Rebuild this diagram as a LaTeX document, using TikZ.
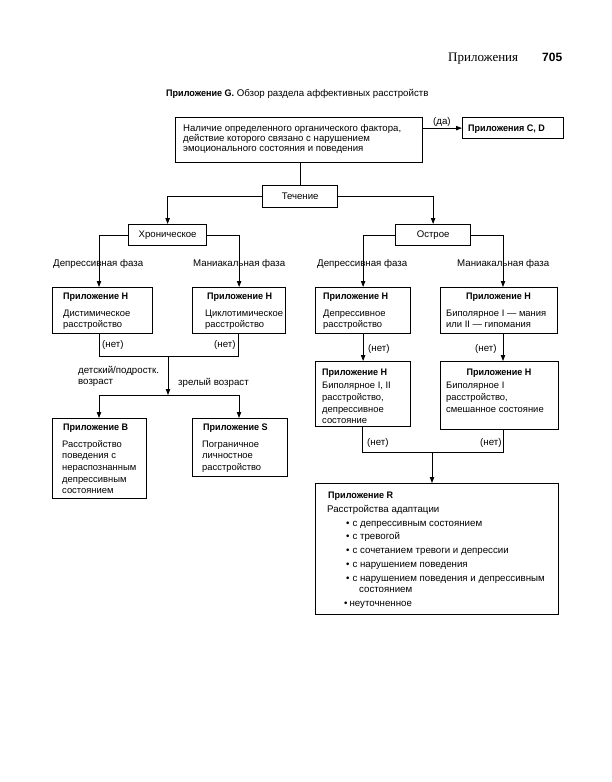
\documentclass[tikz,border=0pt]{standalone}
\usepackage{fontspec}
\setmainfont{Liberation Sans}
\newfontfamily\hdserif{Liberation Serif}
\newfontfamily\tfc[FakeStretch=0.95]{Liberation Sans}
\usetikzlibrary{arrows.meta,calc}
\newcommand\ttlx[1]{{\fontsize{9.5}{12}\tfc\bfseries #1}}
\begin{document}
\begin{tikzpicture}[x=1pt,y=-1pt,
  box/.style={draw, line width=1.25pt, inner sep=0pt, anchor=north west},
  ln/.style={line width=0.9pt},
  arr/.style={line width=0.9pt, -{Triangle[length=6pt,width=4.4pt]}},
  t/.style={anchor=base west, inner sep=0pt, align=left, font=\fontsize{9.4}{11.3}\selectfont},
  lb/.style={anchor=base west, inner sep=0pt, align=left, font=\fontsize{9.7}{11.3}\selectfont},
  tc/.style={inner sep=0pt, font=\fontsize{9.6}{11.3}\selectfont},
  bt/.style={anchor=base west, inner sep=0pt, font=\fontsize{9.5}{12}\tfc\bfseries}
]
\fill[white] (0,0) rectangle (611,782);
\useasboundingbox (0,0) rectangle (611,782);

% header
\node[anchor=base west, inner sep=0pt, font=\fontsize{13}{14}\hdserif] (hd) at (448,61) {Приложения};
\node[anchor=base west, inner sep=0pt, font=\fontsize{12}{14}\bfseries] (pg) at (542,61) {705};
\node[t, font=\fontsize{9.7}{12}\selectfont] (title) at (166,96.8) {\ttlx{Приложение G.} Обзор раздела аффективных расстройств};

% boxes
\node[box, minimum width=247pt, minimum height=45pt] (top) at (175,117) {};
\node[box, minimum width=101pt, minimum height=21pt] (CD) at (462,117) {};
\node[box, minimum width=75pt, minimum height=22pt] (tech) at (262,185) {};
\node[box, minimum width=78pt, minimum height=21pt] (chron) at (128,224) {};
\node[box, minimum width=75pt, minimum height=21pt] (acute) at (395,224) {};
\node[box, minimum width=100pt, minimum height=46pt] (H1) at (52,287) {};
\node[box, minimum width=93pt, minimum height=46pt] (H2) at (192,287) {};
\node[box, minimum width=95pt, minimum height=46pt] (H3) at (315,287) {};
\node[box, minimum width=117pt, minimum height=46pt] (H4) at (440,287) {};
\node[box, minimum width=95pt, minimum height=65pt] (H5) at (315,361) {};
\node[box, minimum width=118pt, minimum height=68pt] (H6) at (440,361) {};
\node[box, minimum width=94pt, minimum height=80pt] (B) at (52,418) {};
\node[box, minimum width=95pt, minimum height=58pt] (S) at (192,418) {};
\node[box, minimum width=243pt, minimum height=131pt] (R) at (315,483) {};

% box texts
\node[t, font=\fontsize{9.6}{10}\selectfont] (toptx) at (183,151) {Наличие определенного органического фактора,\\действие которого связано с нарушением\\эмоционального состояния и поведения};
\node[bt] (CDtx) at (468,131) {Приложения C, D};
\node[tc] (techtx) at (tech.center) {Течение};
\node[tc] (chrontx) at (chron.center) {Хроническое};
\node[tc] (acutetx) at (acute.center) {Острое};

\node[bt] (H1a) at (63,299.5) {Приложение H};
\node[t] (H1b) at (63,327.3) {Дистимическое\\расстройство};
\node[bt] (H2a) at (207,299.5) {Приложение H};
\node[t] (H2b) at (205,327.3) {Циклотимическое\\расстройство};
\node[bt] (H3a) at (323,299.5) {Приложение H};
\node[t] (H3b) at (323,327.3) {Депрессивное\\расстройство};
\node[bt, anchor=base] (H4a) at (498.5,299.5) {Приложение H};
\node[t] (H4b) at (446,327.3) {Биполярное I — мания\\или II — гипомания};
\node[bt] (H5a) at (322,375) {Приложение H};
\node[t, font=\fontsize{9.4}{11.8}\selectfont] (H5b) at (322,423.9) {Биполярное I, II\\расстройство,\\депрессивное\\состояние};
\node[bt, anchor=base] (H6a) at (499,375) {Приложение H};
\node[t, font=\fontsize{9.4}{11.8}\selectfont] (H6b) at (446,412.1) {Биполярное I\\расстройство,\\смешанное состояние};
\node[bt] (Ba) at (63,430) {Приложение B};
\node[t, font=\fontsize{9.4}{11.7}\selectfont] (Bb) at (62,493.8) {Расстройство\\поведения с\\нераспознанным\\депрессивным\\состоянием};
\node[bt] (Sa) at (203,430) {Приложение S};
\node[t, font=\fontsize{9.4}{11.7}\selectfont] (Sb) at (202,470.4) {Пограничное\\личностное\\расстройство};

\node[bt] (Ra) at (328,498.5) {Приложение R};
\node[lb] (Rb) at (327,512.8) {Расстройства адаптации};
\node[lb] (R1) at (346,526.8) {•\hspace{3pt}с депрессивным состоянием};
\node[lb] (R2) at (346,539.8) {•\hspace{3pt}с тревогой};
\node[lb] (R3) at (346,553.5) {•\hspace{3pt}с сочетанием тревоги и депрессии};
\node[lb] (R4) at (346,567.5) {•\hspace{3pt}с нарушением поведения};
\node[lb] (R5) at (346,581.8) {•\hspace{3pt}с нарушением поведения и депрессивным};
\node[lb] (R5b) at (359,592.3) {состоянием};
\node[lb] (R6) at (344,606.2) {•\hspace{2pt}неуточненное};

% labels
\node[lb] (yes) at (433,124.5) {(да)};
\node[lb] (l1) at (53,266.8) {Депрессивная фаза};
\node[lb] (l2) at (193,266.8) {Маниакальная фаза};
\node[lb] (l3) at (317,266.8) {Депрессивная фаза};
\node[lb] (l4) at (457,266.8) {Маниакальная фаза};
\node[lb] (n1) at (102,347.5) {(нет)};
\node[lb] (n2) at (214,347.5) {(нет)};
\node[lb] (n3) at (368,351.8) {(нет)};
\node[lb] (n4) at (475,351.8) {(нет)};
\node[lb] (n5) at (367,445.2) {(нет)};
\node[lb] (n6) at (480,445.2) {(нет)};
\node[lb, font=\fontsize{9.7}{10.7}\selectfont] (age1) at (78,384.2) {детский/подростк.\\возраст};
\node[lb] (age2) at (178,385.5) {зрелый возраст};

% joints
\coordinate (jL1) at (99,356);
\coordinate (jR1) at (238,356);
\coordinate (jC1) at (168,356);
\coordinate (jC2) at (168,395);
\coordinate (jL2) at (99,395);
\coordinate (jR2) at (239,395);
\coordinate (k1) at (362,452);
\coordinate (k2) at (503,452);
\coordinate (kc) at (432,452);

% connectors
\draw[arr] (CD.west -| top.east) -- (CD.west);
\draw[ln] (tech.north |- top.south) -- (tech.north);
\draw[arr] (tech.west) -| (chron.north);
\draw[arr] (tech.east) -| (acute.north);
\draw[arr] (chron.west) -| (jL1 |- H1.north);
\draw[arr] (chron.east) -| (H2.north);
\draw[arr] (acute.west) -| (H3.north);
\draw[arr] (acute.east) -| (k2 |- H4.north);
\draw[ln] (jL1 |- H1.south) -- (jL1) -- (jR1) -- (jR1 |- H2.south);
\draw[arr] (jC1) -- (jC2);
\draw[arr] (jC2) -| (jL2 |- B.north);
\draw[arr] (jC2) -| (jR2 |- S.north);
\draw[arr] (H3.south) -- (H5.north);
\draw[arr] (k2 |- H4.south) -- (k2 |- H6.north);
\draw[ln] (k1 |- H5.south) -- (k1) -- (k2) -- (k2 |- H6.south);
\draw[arr] (kc) -- (kc |- R.north);
\end{tikzpicture}
\end{document}
